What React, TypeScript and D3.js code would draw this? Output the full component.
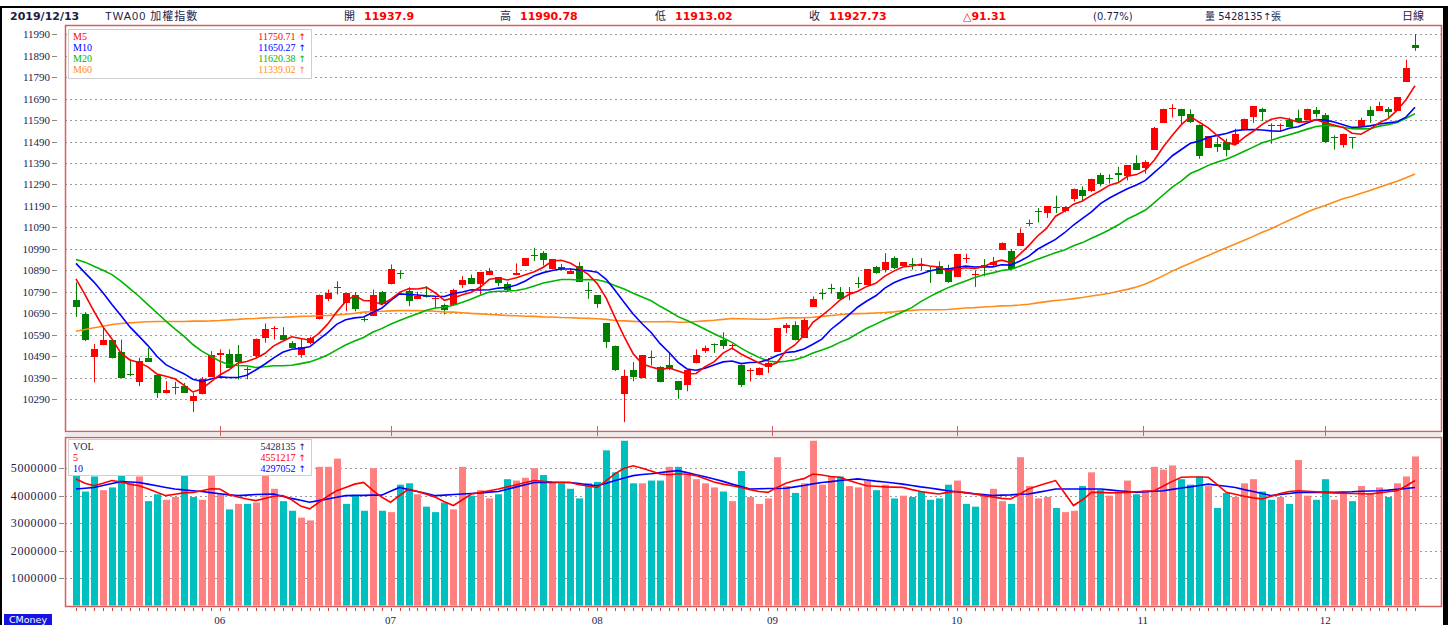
import React from 'react';
import * as d3 from 'd3';

// daily candles, 2019/05/14 .. 2019/12/13
const opens = [
  10751, 10684, 10487, 10541, 10563, 10511, 10406, 10368, 10482, 10404,
  10319, 10347, 10350, 10280, 10311, 10393, 10493, 10502, 10502, 10428,
  10490, 10575, 10614, 10587, 10549, 10497, 10552, 10661, 10754, 10813,
  10738, 10777, 10664, 10679, 10790, 10824, 10877, 10793, 10757, 10770,
  10758, 10730, 10728, 10821, 10855, 10824, 10867, 10859, 10824, 10866,
  10912, 10962, 10971, 10894, 10906, 10872, 10909, 10800, 10773, 10645,
  10536, 10311, 10427, 10387, 10487, 10440, 10449, 10373, 10353, 10456,
  10516, 10546, 10563, 10535, 10450, 10420, 10400, 10439, 10509, 10621,
  10633, 10574, 10719, 10785, 10808, 10787, 10784, 10832, 10823, 10905,
  10890, 10947, 10908, 10921, 10913, 10893, 10908, 10900, 10858, 10945,
  10872, 10916, 10914, 10986, 10978, 11003, 11107, 11166, 11157, 11186,
  11165, 11220, 11263, 11260, 11333, 11318, 11345, 11328, 11390, 11368,
  11452, 11577, 11644, 11640, 11617, 11566, 11462, 11480, 11488, 11480,
  11542, 11605, 11643, 11568, 11562, 11592, 11601, 11589, 11636, 11612,
  11510, 11473, 11509, 11558, 11636, 11633, 11643, 11633, 11768, 11937.9,
];
const highs = [
  10834, 10695, 10547, 10622, 10567, 10567, 10474, 10482, 10528, 10404,
  10373, 10370, 10365, 10319, 10392, 10513, 10521, 10521, 10542, 10440,
  10572, 10642, 10630, 10625, 10560, 10570, 10580, 10777, 10800, 10839,
  10785, 10788, 10674, 10800, 10793, 10917, 10889, 10811, 10790, 10816,
  10769, 10735, 10804, 10863, 10870, 10881, 10901, 10859, 10835, 10922,
  10948, 10995, 10979, 10943, 10920, 10900, 10928, 10835, 10773, 10645,
  10539, 10427, 10462, 10494, 10516, 10443, 10506, 10373, 10423, 10521,
  10539, 10549, 10601, 10548, 10450, 10434, 10437, 10481, 10621, 10644,
  10652, 10667, 10768, 10803, 10827, 10812, 10812, 10859, 10896, 10911,
  10970, 10955, 10927, 10947, 10947, 10908, 10932, 10916, 10966, 10967,
  10890, 10942, 10952, 11020, 10989, 11085, 11126, 11180, 11188, 11238,
  11190, 11271, 11281, 11317, 11344, 11337, 11372, 11379, 11426, 11403,
  11558, 11643, 11664, 11643, 11640, 11570, 11514, 11508, 11504, 11550,
  11597, 11654, 11648, 11575, 11574, 11601, 11639, 11643, 11651, 11623,
  11519, 11527, 11510, 11601, 11654, 11675, 11651, 11698, 11872, 11990.78,
];
const lows = [
  10673, 10560, 10368, 10541, 10479, 10389, 10396, 10350, 10463, 10295,
  10316, 10311, 10319, 10229, 10311, 10393, 10396, 10435, 10381, 10382,
  10482, 10552, 10567, 10567, 10528, 10482, 10545, 10661, 10746, 10777,
  10699, 10699, 10650, 10679, 10728, 10824, 10850, 10723, 10755, 10762,
  10710, 10684, 10728, 10808, 10827, 10777, 10867, 10816, 10793, 10866,
  10912, 10933, 10912, 10894, 10890, 10872, 10835, 10757, 10715, 10528,
  10420, 10182, 10373, 10387, 10446, 10368, 10425, 10291, 10326, 10456,
  10505, 10505, 10523, 10520, 10346, 10372, 10400, 10411, 10509, 10597,
  10563, 10574, 10719, 10753, 10781, 10756, 10750, 10807, 10823, 10874,
  10880, 10896, 10908, 10893, 10890, 10831, 10874, 10831, 10858, 10924,
  10812, 10862, 10910, 10986, 10893, 11003, 11095, 11113, 11134, 11157,
  11160, 11210, 11216, 11255, 11281, 11294, 11302, 11309, 11359, 11340,
  11452, 11577, 11602, 11570, 11577, 11410, 11462, 11441, 11421, 11480,
  11542, 11577, 11586, 11480, 11539, 11558, 11577, 11589, 11602, 11483,
  11452, 11462, 11457, 11558, 11577, 11633, 11605, 11633, 11768, 11913.02,
];
const closes = [
  10718, 10564, 10524, 10564, 10479, 10389, 10404, 10465, 10463, 10316,
  10331, 10345, 10319, 10306, 10384, 10497, 10505, 10435, 10462, 10425,
  10572, 10614, 10619, 10567, 10528, 10533, 10574, 10774, 10785, 10810,
  10782, 10710, 10660, 10774, 10731, 10894, 10875, 10746, 10769, 10768,
  10760, 10707, 10799, 10845, 10827, 10881, 10886, 10831, 10800, 10878,
  10948, 10959, 10937, 10943, 10896, 10886, 10835, 10793, 10731, 10555,
  10427, 10399, 10393, 10494, 10484, 10368, 10430, 10331, 10423, 10493,
  10528, 10540, 10535, 10540, 10357, 10425, 10434, 10458, 10621, 10636,
  10563, 10657, 10756, 10782, 10805, 10756, 10787, 10830, 10896, 10877,
  10927, 10900, 10927, 10918, 10916, 10890, 10874, 10834, 10966, 10948,
  10875, 10913, 10930, 11017, 10896, 11065, 11110, 11164, 11188, 11183,
  11186, 11271, 11236, 11317, 11294, 11317, 11333, 11379, 11359, 11395,
  11555, 11640, 11648, 11608, 11581, 11421, 11514, 11465, 11449, 11524,
  11597, 11654, 11628, 11565, 11566, 11558, 11581, 11643, 11617, 11488,
  11507, 11527, 11508, 11589, 11608, 11654, 11628, 11698, 11835, 11927.73,
];
const volumes = [
  4750000, 4150000, 4700000, 4200000, 4300000, 4750000, 4450000, 4700000, 3800000, 4050000,
  3850000, 3950000, 4750000, 3950000, 3850000, 4750000, 4050000, 3500000, 3700000, 3700000,
  3750000, 4750000, 4250000, 3800000, 3450000, 3200000, 3100000, 5050000, 5050000, 5350000,
  3700000, 4000000, 3450000, 5000000, 3450000, 3400000, 4400000, 4450000, 4050000, 3600000,
  3400000, 3750000, 3500000, 5050000, 4000000, 4200000, 3900000, 4050000, 4600000, 4550000,
  4650000, 5000000, 4750000, 4500000, 4450000, 4250000, 3900000, 4450000, 4500000, 5650000,
  4850000, 6000000, 4450000, 4450000, 4550000, 4550000, 5050000, 5050000, 4750000, 4600000,
  4450000, 4300000, 4150000, 3800000, 4900000, 3950000, 3700000, 3900000, 5400000, 4350000,
  4100000, 4450000, 6000000, 4400000, 4700000, 4700000, 4350000, 4300000, 4550000, 4200000,
  4400000, 3900000, 4000000, 3950000, 4150000, 3850000, 3900000, 4400000, 4550000, 3700000,
  3600000, 4000000, 4250000, 3800000, 3700000, 5400000, 4350000, 3900000, 3950000, 3550000,
  3400000, 3450000, 4350000, 4850000, 4200000, 4000000, 4150000, 4550000, 4050000, 4200000,
  5050000, 4950000, 5100000, 4600000, 4400000, 4700000, 4350000, 3550000, 4100000, 3950000,
  4450000, 4600000, 4150000, 3850000, 3950000, 3700000, 5300000, 4000000, 3850000, 4600000,
  3850000, 4100000, 3800000, 4350000, 4100000, 4300000, 3950000, 4450000, 4700000, 5428135,
];

// moving-average lines
const ma5 = [
  10850, 10777, 10699, 10626, 10570, 10504, 10472, 10460, 10440, 10407,
  10396, 10384, 10355, 10323, 10337, 10370, 10402, 10425, 10457, 10465,
  10480, 10502, 10538, 10559, 10580, 10572, 10564, 10595, 10639, 10695,
  10745, 10772, 10749, 10747, 10731, 10754, 10787, 10804, 10803, 10810,
  10784, 10750, 10761, 10776, 10788, 10812, 10848, 10854, 10845, 10855,
  10869, 10883, 10904, 10933, 10937, 10924, 10899, 10871, 10828, 10760,
  10668, 10581, 10501, 10454, 10439, 10428, 10434, 10421, 10407, 10409,
  10441, 10463, 10504, 10527, 10500, 10479, 10458, 10443, 10459, 10515,
  10542, 10587, 10647, 10679, 10713, 10751, 10777, 10792, 10815, 10829,
  10863, 10886, 10905, 10910, 10918, 10910, 10905, 10886, 10896, 10902,
  10899, 10907, 10926, 10937, 10926, 10964, 11004, 11050, 11085, 11142,
  11166, 11198, 11213, 11239, 11261, 11287, 11299, 11328, 11336, 11357,
  11404, 11466, 11519, 11569, 11606, 11580, 11554, 11518, 11486, 11475,
  11510, 11538, 11570, 11594, 11602, 11594, 11580, 11583, 11593, 11577,
  11567, 11556, 11529, 11524, 11548, 11577, 11597, 11635, 11685, 11750.71,
];
const ma10 = [
  10922, 10878, 10835, 10785, 10730, 10679, 10626, 10583, 10539, 10489,
  10450, 10428, 10408, 10382, 10372, 10383, 10393, 10390, 10390, 10401,
  10425, 10452, 10482, 10508, 10522, 10526, 10533, 10567, 10599, 10638,
  10659, 10668, 10672, 10693, 10713, 10749, 10780, 10777, 10775, 10771,
  10769, 10768, 10782, 10789, 10799, 10798, 10799, 10807, 10810, 10821,
  10840, 10865, 10879, 10889, 10896, 10896, 10891, 10888, 10881, 10848,
  10796, 10740, 10686, 10641, 10600, 10548, 10507, 10461, 10430, 10424,
  10434, 10448, 10463, 10467, 10455, 10460, 10461, 10473, 10493, 10507,
  10511, 10523, 10545, 10569, 10614, 10647, 10682, 10719, 10747, 10771,
  10807, 10832, 10849, 10862, 10873, 10887, 10896, 10896, 10903, 10910,
  10905, 10906, 10906, 10916, 10914, 10932, 10955, 10988, 11011, 11034,
  11065, 11101, 11132, 11162, 11201, 11227, 11249, 11270, 11288, 11309,
  11346, 11383, 11424, 11453, 11482, 11492, 11510, 11519, 11528, 11541,
  11545, 11546, 11544, 11540, 11538, 11552, 11559, 11577, 11593, 11590,
  11581, 11568, 11556, 11558, 11563, 11572, 11577, 11582, 11604, 11650.27,
];
const ma20 = [
  10940, 10928, 10909, 10890, 10870, 10839, 10804, 10769, 10730, 10692,
  10653, 10617, 10583, 10544, 10513, 10490, 10466, 10451, 10446, 10445,
  10437, 10440, 10445, 10445, 10447, 10455, 10463, 10478, 10495, 10519,
  10542, 10560, 10577, 10601, 10618, 10638, 10656, 10672, 10687, 10704,
  10714, 10718, 10727, 10741, 10756, 10774, 10789, 10792, 10793, 10796,
  10804, 10817, 10831, 10839, 10847, 10847, 10845, 10847, 10846, 10835,
  10818, 10803, 10783, 10765, 10748, 10722, 10699, 10674, 10656, 10636,
  10615, 10594, 10574, 10554, 10527, 10504, 10484, 10467, 10462, 10466,
  10473, 10486, 10504, 10518, 10534, 10554, 10571, 10596, 10620, 10639,
  10659, 10677, 10697, 10716, 10744, 10767, 10789, 10808, 10825, 10840,
  10856, 10869, 10878, 10889, 10894, 10909, 10925, 10942, 10957, 10972,
  10985, 11004, 11019, 11039, 11058, 11079, 11102, 11129, 11149, 11171,
  11205, 11242, 11278, 11307, 11341, 11359, 11379, 11395, 11408, 11425,
  11445, 11464, 11484, 11496, 11510, 11522, 11534, 11548, 11560, 11565,
  11563, 11557, 11550, 11549, 11550, 11562, 11568, 11579, 11599, 11620.38,
];
const ma60 = [
  10606, 10614, 10622, 10629, 10637, 10642, 10645, 10648, 10650, 10651,
  10651, 10651, 10651, 10653, 10653, 10654, 10656, 10659, 10661, 10664,
  10665, 10668, 10670, 10671, 10673, 10675, 10676, 10678, 10679, 10682,
  10685, 10689, 10695, 10698, 10699, 10701, 10702, 10702, 10702, 10701,
  10699, 10696, 10695, 10692, 10689, 10687, 10684, 10682, 10679, 10678,
  10676, 10675, 10673, 10672, 10670, 10669, 10667, 10666, 10664, 10661,
  10656, 10654, 10652, 10650, 10650, 10650, 10651, 10648, 10648, 10651,
  10654, 10657, 10661, 10665, 10664, 10663, 10662, 10662, 10665, 10668,
  10668, 10669, 10671, 10675, 10679, 10683, 10687, 10688, 10689, 10691,
  10693, 10696, 10701, 10703, 10706, 10706, 10706, 10707, 10711, 10714,
  10716, 10719, 10721, 10724, 10725, 10728, 10732, 10738, 10744, 10749,
  10753, 10758, 10763, 10770, 10776, 10783, 10792, 10801, 10812, 10826,
  10845, 10865, 10886, 10905, 10923, 10941, 10959, 10978, 10995, 11012,
  11030, 11048, 11067, 11084, 11104, 11123, 11142, 11162, 11178, 11192,
  11208, 11223, 11235, 11249, 11262, 11277, 11291, 11305, 11321, 11339.02,
];
const volMa5 = [
  4610000, 4450000, 4360000, 4450000, 4550000, 4500000, 4420000, 4360000, 4250000, 4120000,
  4000000, 4050000, 4100000, 4120000, 4180000, 4250000, 4240000, 4050000, 3950000, 3880000,
  3820000, 3900000, 3980000, 4000000, 3850000, 3620000, 3520000, 3750000, 3980000, 4180000,
  4300000, 4420000, 4480000, 4200000, 3950000, 3760000, 4000000, 4240000, 4150000, 4050000,
  3940000, 3780000, 3640000, 3850000, 4060000, 4120000, 4180000, 4240000, 4320000, 4400000,
  4480000, 4550000, 4520000, 4500000, 4490000, 4480000, 4400000, 4350000, 4300000, 4550000,
  4800000, 5000000, 5090000, 5000000, 4900000, 4790000, 4760000, 4800000, 4780000, 4730000,
  4620000, 4500000, 4420000, 4360000, 4300000, 4220000, 4150000, 4120000, 4300000, 4450000,
  4550000, 4620000, 4790000, 4750000, 4700000, 4670000, 4550000, 4450000, 4360000, 4340000,
  4320000, 4310000, 4300000, 4220000, 4150000, 4100000, 4060000, 4120000, 4150000, 4100000,
  4060000, 4000000, 3950000, 3900000, 3880000, 4050000, 4240000, 4350000, 4450000, 4550000,
  4100000, 3640000, 3850000, 4120000, 4120000, 4100000, 4110000, 4120000, 4140000, 4160000,
  4180000, 4350000, 4520000, 4670000, 4680000, 4680000, 4670000, 4400000, 4120000, 4050000,
  3980000, 3920000, 3880000, 3980000, 4080000, 4150000, 4180000, 4160000, 4140000, 4120000,
  4100000, 4090000, 4080000, 4070000, 4060000, 4100000, 4140000, 4180000, 4350000, 4551217,
];
const volMa10 = [
  4240000, 4270000, 4300000, 4370000, 4440000, 4510000, 4500000, 4480000, 4420000, 4360000,
  4300000, 4240000, 4210000, 4180000, 4150000, 4110000, 4070000, 4030000, 4000000, 4020000,
  4040000, 4050000, 4060000, 3980000, 3900000, 3830000, 3760000, 3820000, 3880000, 3940000,
  4000000, 4010000, 4010000, 4020000, 4020000, 4160000, 4300000, 4220000, 4150000, 4080000,
  4000000, 4020000, 4040000, 4060000, 4080000, 4100000, 4130000, 4150000, 4230000, 4320000,
  4400000, 4480000, 4480000, 4480000, 4480000, 4480000, 4440000, 4400000, 4360000, 4450000,
  4550000, 4640000, 4730000, 4770000, 4800000, 4840000, 4880000, 4910000, 4840000, 4760000,
  4690000, 4610000, 4520000, 4420000, 4330000, 4240000, 4250000, 4260000, 4260000, 4270000,
  4320000, 4370000, 4430000, 4480000, 4510000, 4550000, 4580000, 4610000, 4570000, 4530000,
  4500000, 4460000, 4420000, 4370000, 4320000, 4280000, 4230000, 4180000, 4140000, 4110000,
  4070000, 4040000, 4000000, 4020000, 4030000, 4050000, 4060000, 4120000, 4180000, 4240000,
  4240000, 4240000, 4240000, 4240000, 4240000, 4210000, 4180000, 4150000, 4120000, 4140000,
  4160000, 4180000, 4230000, 4280000, 4320000, 4370000, 4420000, 4380000, 4340000, 4300000,
  4220000, 4150000, 4080000, 4000000, 4040000, 4080000, 4120000, 4120000, 4120000, 4120000,
  4120000, 4130000, 4140000, 4160000, 4170000, 4180000, 4200000, 4230000, 4260000, 4297052,
];

const priceTicks = [
  10290, 10390, 10490, 10590, 10690, 10790, 10890, 10990, 11090,
  11190, 11290, 11390, 11490, 11590, 11690, 11790, 11890, 11990,
];
const volumeTicks = [1000000, 2000000, 3000000, 4000000, 5000000];
const monthLabels = ['06', '07', '08', '09', '10', '11', '12'];
const monthIndex = [16, 35, 58, 77.5, 98, 118.7, 139];

const RED = '#ff0000';
const GREEN = '#007f00';
const BORDER = '#d65f5f';
const NAVY = '#1c1c48';
const SERIF = "'Liberation Serif', 'DejaVu Serif', serif";
const SANS = "'DejaVu Sans', 'Noto Sans CJK TC', sans-serif";

const App: React.FC = () => {
  const n = closes.length;
  const x = d3.scaleLinear().domain([0, n - 1]).range([76, 1415]);
  const yP = d3.scaleLinear().domain([10290, 11990]).range([399, 34.3]);
  const yV = d3.scaleLinear().domain([0, 5000000]).range([605.5, 468.2]);
  const cx = (i: number) => Math.round(x(i));

  const priceLine = d3.line<number>().x((_, i) => x(i)).y(d => yP(d));
  const volLine = d3.line<number>().x((_, i) => x(i)).y(d => yV(d));

  const panelL = 65;
  const panelR = 1441;
  const rowGap = 11.3;

  const maRows = [
    { name: 'M5', value: '11750.71', color: RED },
    { name: 'M10', value: '11650.27', color: '#0000ff' },
    { name: 'M20', value: '11620.38', color: '#00b400' },
    { name: 'M60', value: '11339.02', color: '#ff8c1a' },
  ];
  const volRows = [
    { name: 'VOL', value: '5428135', color: NAVY },
    { name: '5', value: '4551217', color: RED },
    { name: '10', value: '4297052', color: '#0000ff' },
  ];

  return (
    <svg width={1448} height={625} style={{ position: 'absolute', left: 0, top: 0, background: '#fff' }}>
      <rect x={0} y={0} width={1448} height={625} fill="#fff" />

      {/* frame */}
      <rect x={0} y={6} width={1448} height={2} fill="#000" />
      <rect x={0} y={6} width={2} height={619} fill="#000" />
      <rect x={1443} y={6} width={5} height={619} fill="#000" />

      {/* header */}
      <g fontSize={11} fontFamily={SANS} fill={NAVY}>
        <text x={10} y={20} fontWeight="bold">2019/12/13</text>
        <text x={105} y={20} fontFamily="'Liberation Sans', 'Noto Sans CJK TC', sans-serif" letterSpacing={1}>TWA00 加權指數</text>
        <text x={344} y={20}>開</text>
        <text x={364} y={20} fill={RED} fontWeight="bold">11937.9</text>
        <text x={500} y={20}>高</text>
        <text x={520} y={20} fill={RED} fontWeight="bold">11990.78</text>
        <text x={655} y={20}>低</text>
        <text x={675} y={20} fill={RED} fontWeight="bold">11913.02</text>
        <text x={809} y={20}>收</text>
        <text x={829} y={20} fill={RED} fontWeight="bold">11927.73</text>
        <text x={963} y={20} fill={RED} fontWeight="bold">△91.31</text>
        <text x={1093} y={20} fontSize={10}>(0.77%)</text>
        <text x={1205} y={20} fontSize={10}>量 5428135↑張</text>
        <text x={1402} y={20}>日線</text>
      </g>

      {/* price grid + labels */}
      {priceTicks.map(t => (
        <g key={t}>
          <line x1={panelL} x2={panelR} y1={Math.round(yP(t)) + 0.5} y2={Math.round(yP(t)) + 0.5}
            stroke="#9a9a9a" strokeDasharray="2,3" />
          <line x1={52} x2={57} y1={Math.round(yP(t)) + 0.5} y2={Math.round(yP(t)) + 0.5} stroke="#888" />
          <text x={50} y={yP(t) + 4} textAnchor="end" fontSize={11} fontFamily={SERIF} fill={NAVY}>{t}</text>
        </g>
      ))}

      {/* volume grid + labels */}
      {volumeTicks.map(t => (
        <g key={t}>
          <line x1={panelL} x2={panelR} y1={Math.round(yV(t)) + 0.5} y2={Math.round(yV(t)) + 0.5}
            stroke="#9a9a9a" strokeDasharray="2,3" />
          <line x1={59} x2={64} y1={Math.round(yV(t)) + 0.5} y2={Math.round(yV(t)) + 0.5} stroke="#888" />
          <text x={57} y={yV(t) + 4} textAnchor="end" fontSize={12} letterSpacing={0.6}
            fontFamily={SERIF} fill={NAVY}>{t}</text>
        </g>
      ))}

      {/* volume bars */}
      {volumes.map((v, i) => {
        const up = i > 0 && closes[i] > closes[i - 1];
        return (
          <rect key={i} x={cx(i) - 3} y={yV(v)} width={7} height={yV(0) - yV(v)}
            fill={up ? '#ff8080' : '#00bfbf'} />
        );
      })}
      <path d={volLine(volMa10) ?? ''} fill="none" stroke="#0000ff" strokeWidth={1.6} />
      <path d={volLine(volMa5) ?? ''} fill="none" stroke={RED} strokeWidth={1.6} />

      {/* candles */}
      {closes.map((c, i) => {
        const o = opens[i];
        const col = c >= o ? RED : GREEN;
        const top = Math.round(yP(Math.max(o, c)));
        const bot = Math.round(yP(Math.min(o, c)));
        const xc = cx(i);
        return (
          <g key={i}>
            <line x1={xc + 0.5} x2={xc + 0.5} y1={yP(highs[i])} y2={yP(lows[i])} stroke={col} strokeWidth={1} />
            <rect x={xc - 3} y={top} width={7} height={Math.max(1, bot - top)} fill={col} />
          </g>
        );
      })}

      {/* moving averages */}
      <path d={priceLine(ma60) ?? ''} fill="none" stroke="#ff8c1a" strokeWidth={1.6} />
      <path d={priceLine(ma20) ?? ''} fill="none" stroke="#00b400" strokeWidth={1.6} />
      <path d={priceLine(ma10) ?? ''} fill="none" stroke="#0000ff" strokeWidth={1.6} />
      <path d={priceLine(ma5) ?? ''} fill="none" stroke={RED} strokeWidth={1.6} />

      {/* price legend */}
      <rect x={68.5} y={29.5} width={243} height={49} fill="#fff" stroke="#cfcfcf" />
      {maRows.map((r, k) => (
        <g key={r.name} fontFamily={SERIF} fontSize={10} fill={r.color}>
          <text x={73} y={39.5 + k * rowGap}>{r.name}</text>
          <text x={306} y={39.5 + k * rowGap} textAnchor="end">
            {r.value}<tspan dx={3} fontFamily={SANS} fontSize={9}>↑</tspan>
          </text>
        </g>
      ))}

      {/* volume legend */}
      <rect x={68.5} y={439.5} width={243} height={36} fill="#fff" stroke="#cfcfcf" />
      {volRows.map((r, k) => (
        <g key={r.name} fontFamily={SERIF} fontSize={10} fill={r.color}>
          <text x={73} y={449.5 + k * rowGap}>{r.name}</text>
          <text x={306} y={449.5 + k * rowGap} textAnchor="end">
            {r.value}<tspan dx={3} fontFamily={SANS} fontSize={9}>↑</tspan>
          </text>
        </g>
      ))}

      {/* panel borders */}
      <rect x={panelL + 0.5} y={25.5} width={panelR - panelL} height={406} fill="none" stroke={BORDER} strokeWidth={1.5} />
      <rect x={panelL + 0.5} y={437.5} width={panelR - panelL} height={169} fill="none" stroke={BORDER} strokeWidth={1.5} />
      <rect x={panelL} y={432.5} width={panelR - panelL} height={4} fill="#ececec" />

      {/* month ticks on price panel */}
      {monthIndex.map((m, k) => (
        <line key={k} x1={Math.round(x(m)) + 0.5} x2={Math.round(x(m)) + 0.5} y1={426} y2={436} stroke={BORDER} />
      ))}

      {/* day ticks below volume panel */}
      {closes.map((_, i) => (
        <line key={i} x1={cx(i) + 0.5} x2={cx(i) + 0.5} y1={608} y2={611} stroke="#d04040" />
      ))}

      {/* month labels */}
      {monthLabels.map((m, k) => (
        <text key={m} x={x(monthIndex[k])} y={624} textAnchor="middle" fontSize={11}
          fontFamily={SERIF} fill={NAVY}>{m}</text>
      ))}

      {/* brand tag */}
      <rect x={4} y={614} width={48} height={11} fill="#1414e6" />
      <text x={28} y={623} textAnchor="middle" fontSize={9.5} fontFamily={SANS} fill="#fff">CMoney</text>
    </svg>
  );
};

export default App;
